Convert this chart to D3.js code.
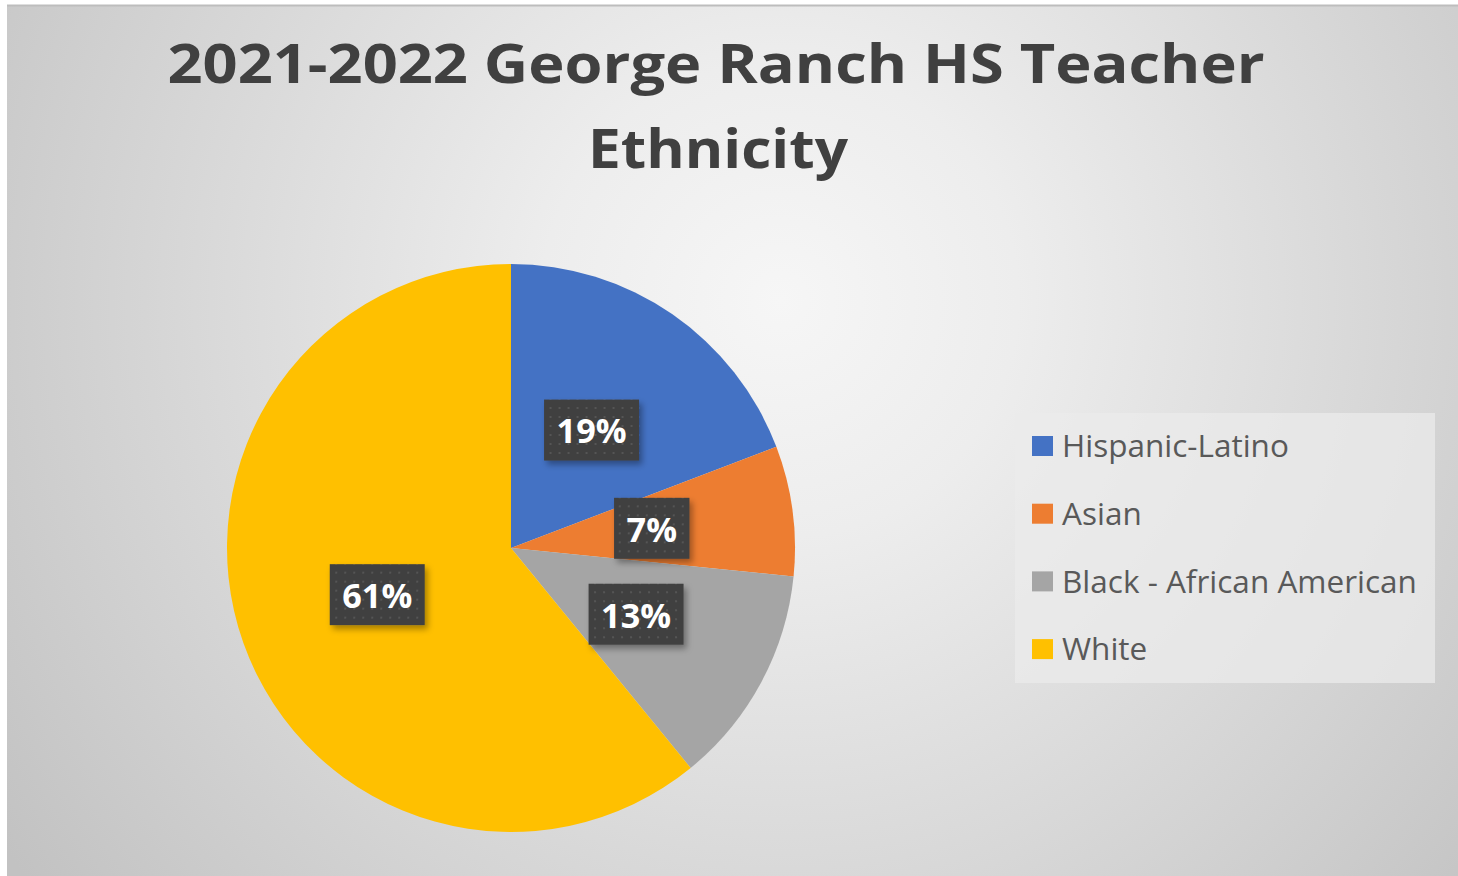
<!DOCTYPE html>
<html>
<head>
<meta charset="utf-8">
<script src="https://cdn.jsdelivr.net/npm/d3@7"></script>
<style>
  body { margin: 0; background: #fff; }
  svg { display: block; }
  text { font-variant-ligatures: none; }
</style>
</head>
<body>
<div id="chart"></div>
<script>
// data (percent of teachers)
const categories = ["Hispanic-Latino", "Asian", "Black - African American", "White"];
const values = [19.2, 7.4, 12.5, 60.9];
const colors = ["#4472C4", "#ED7D31", "#A5A5A5", "#FFC000"];
const titleLines = ["2021-2022 George Ranch HS Teacher", "Ethnicity"];

const W = 1458, H = 876;
const cx = 511, cy = 548, radius = 284;
const font = "'Open Sans', 'Noto Sans', sans-serif";

const svg = d3.select("#chart").append("svg")
  .attr("width", W)
  .attr("height", H);

const defs = svg.append("defs");

const bg = defs.append("radialGradient")
  .attr("id", "bg")
  .attr("gradientUnits", "userSpaceOnUse")
  .attr("cx", 780).attr("cy", 300).attr("r", 950);
bg.append("stop").attr("offset", "0").attr("stop-color", "#f6f6f6");
bg.append("stop").attr("offset", "0.25").attr("stop-color", "#ededed");
bg.append("stop").attr("offset", "1").attr("stop-color", "#c2c2c2");

// dotted texture for the label boxes
const pat = defs.append("pattern")
  .attr("id", "dots")
  .attr("patternUnits", "userSpaceOnUse")
  .attr("width", 9).attr("height", 9);
pat.append("rect").attr("width", 9).attr("height", 9).attr("fill", "#404040");
pat.append("rect").attr("x", 3).attr("y", 3).attr("width", 2).attr("height", 2).attr("fill", "#555555");

const shadow = defs.append("filter")
  .attr("id", "shadow")
  .attr("x", "-20%").attr("y", "-20%")
  .attr("width", "150%").attr("height", "160%");
shadow.append("feDropShadow")
  .attr("dx", 3).attr("dy", 4)
  .attr("stdDeviation", 3)
  .attr("flood-color", "#000")
  .attr("flood-opacity", 0.35);

// chart area background
svg.append("rect")
  .attr("x", 7).attr("y", 5)
  .attr("width", W - 7).attr("height", H - 5)
  .attr("fill", "url(#bg)");
svg.append("line")
  .attr("x1", 7).attr("x2", W)
  .attr("y1", 5.5).attr("y2", 5.5)
  .attr("stroke", "#bdbdbd")
  .attr("stroke-width", 2);

// title
const title = svg.append("g")
  .attr("font-family", font)
  .attr("font-weight", "bold")
  .attr("fill", "#404040")
  .attr("text-anchor", "middle");
title.append("text")
  .attr("x", 716).attr("y", 83)
  .attr("font-size", 53)
  .attr("textLength", 1097)
  .attr("lengthAdjust", "spacingAndGlyphs")
  .text(titleLines[0]);
title.append("text")
  .attr("x", 718).attr("y", 168)
  .attr("font-size", 53)
  .attr("textLength", 260)
  .attr("lengthAdjust", "spacingAndGlyphs")
  .text(titleLines[1]);

// pie
const data = categories.map((c, i) => ({ name: c, value: values[i], color: colors[i] }));
const total = d3.sum(values);

const pie = d3.pie()
  .value((d) => d.value)
  .sort(null);

const arc = d3.arc()
  .innerRadius(0)
  .outerRadius(radius);

const g = svg.append("g")
  .attr("transform", `translate(${cx},${cy})`);

g.selectAll(".slice")
  .data(pie(data))
  .enter()
  .append("path")
  .attr("class", "slice")
  .attr("d", arc)
  .attr("fill", (d) => d.data.color);

// data labels
const lab = g.selectAll(".lab")
  .data(pie(data))
  .enter()
  .append("g")
  .attr("class", "lab")
  .attr("transform", (d) => {
    const c = arc.centroid(d);
    return `translate(${c[0]},${c[1]})`;
  });

const labText = lab.append("text")
  .attr("text-anchor", "middle")
  .attr("dy", "0.36em")
  .attr("font-family", font)
  .attr("font-weight", "bold")
  .attr("font-size", 32)
  .attr("fill", "#ffffff")
  .text((d) => Math.round(d.data.value / total * 100) + "%");

// fit label size so "19%" is about 70px wide
const w19 = labText.nodes()[0].getComputedTextLength();
labText.attr("font-size", 32 * 70 / w19);

lab.each(function () {
  const t = d3.select(this).select("text");
  const w = t.node().getComputedTextLength() + 25, h = 61;
  d3.select(this).insert("rect", "text")
    .attr("x", -w / 2).attr("y", -h / 2 - 1)
    .attr("width", w).attr("height", h)
    .attr("fill", "url(#dots)")
    .attr("filter", "url(#shadow)");
});

// legend
const legend = svg.append("g")
  .attr("transform", "translate(1015,413)");

legend.append("rect")
  .attr("width", 420).attr("height", 270)
  .attr("fill", "#ebebeb")
  .attr("fill-opacity", 0.75);

const item = legend.selectAll(".item")
  .data(data)
  .enter()
  .append("g")
  .attr("class", "item")
  .attr("transform", (d, i) => `translate(17,${33 + i * 67.7})`);

item.append("rect")
  .attr("x", 0).attr("y", -10)
  .attr("width", 21).attr("height", 20)
  .attr("fill", (d) => d.color);

const legText = item.append("text")
  .attr("x", 30)
  .attr("dy", "0.36em")
  .attr("font-family", font)
  .attr("font-size", 29)
  .attr("fill", "#595959")
  .text((d) => d.name);

// longest entry is about 355px wide in the reference
const wLong = d3.max(legText.nodes(), (n) => n.getComputedTextLength());
legText.attr("font-size", 29 * 355 / wLong);
</script>
</body>
</html>
